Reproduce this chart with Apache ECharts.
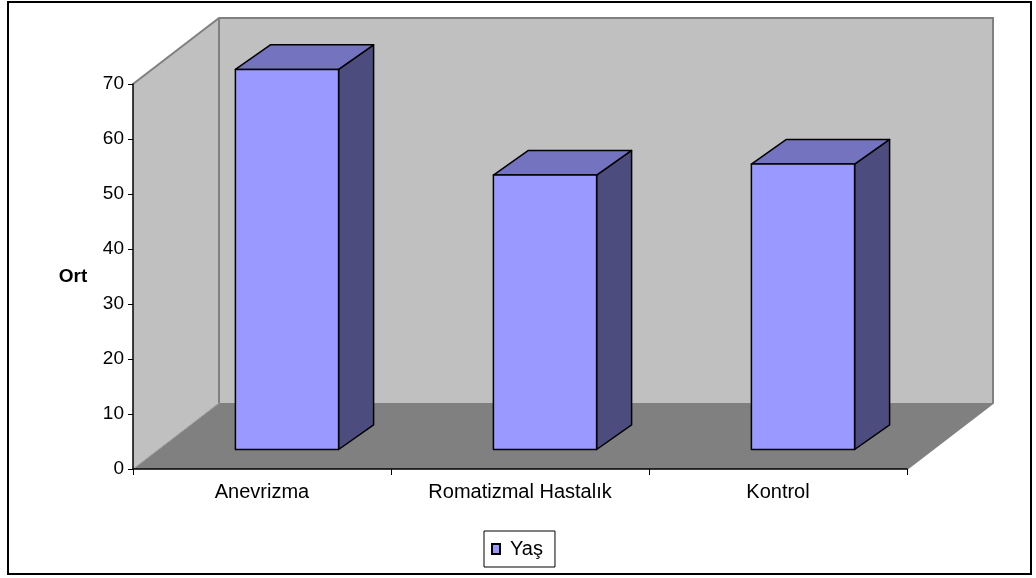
<!DOCTYPE html>
<html>
<head>
<meta charset="utf-8">
<script src="https://cdn.jsdelivr.net/npm/echarts@6/dist/echarts.min.js"></script>
<style>
  html, body { margin: 0; padding: 0; background: #ffffff; }
  #chart { width: 1036px; height: 578px; }
</style>
</head>
<body>
<div id="chart"></div>
<script>
// Mean age (Ort) per group
const categories = ['Anevrizma', 'Romatizmal Hastalık', 'Kontrol'];
const seriesName = 'Yaş';
const values = [69.1, 49.9, 51.9];
const yTicks = { min: 0, max: 70, interval: 10 };

// Oblique 3D look: wall depth, column position inside the depth, column depth
const WALL_DX = 86, WALL_DY = -66;
const COL_DX = 25, COL_DY = -19.5;
const DEPTH_DX = 35, DEPTH_DY = -24.6;
const GAP_RATIO = 2.5; // band width / column width

const FONT = '"Liberation Sans", Arial, sans-serif';

const chart = echarts.init(document.getElementById('chart'), null, { renderer: 'canvas' });

function renderWalls(params, api) {
  const r = params.coordSys;
  const x0 = r.x, x1 = r.x + r.width, yT = r.y, yB = r.y + r.height;
  const bx0 = x0 + WALL_DX, bx1 = x1 + WALL_DX, byT = yT + WALL_DY, byB = yB + WALL_DY;
  return {
    type: 'group',
    children: [
      { // floor
        type: 'polygon',
        shape: { points: [[x0, yB], [bx0, byB], [bx1, byB], [x1, yB]] },
        style: { fill: '#808080', stroke: null }
      },
      { // left side wall
        type: 'polygon',
        shape: { points: [[x0, yB], [x0, yT], [bx0, byT], [bx0, byB]] },
        style: { fill: '#C0C0C0', stroke: null }
      },
      { // back wall
        type: 'rect',
        shape: { x: bx0, y: byT, width: bx1 - bx0, height: byB - byT },
        style: { fill: '#C0C0C0', stroke: null }
      },
      { // wall edges
        type: 'polyline',
        shape: { points: [[x0, yT], [bx0, byT], [bx1, byT], [bx1, byB], [x1, yB]] },
        style: { fill: null, stroke: '#808080', lineWidth: 2 }
      },
      {
        type: 'line',
        shape: { x1: bx0, y1: byT, x2: bx0, y2: byB },
        style: { stroke: '#808080', lineWidth: 2 }
      },
      {
        type: 'line',
        shape: { x1: x0, y1: yB, x2: bx0, y2: byB },
        style: { stroke: '#A0A0A0', lineWidth: 1 }
      }
    ]
  };
}

function renderColumn(params, api) {
  const idx = api.value(0);
  const base = api.coord([idx, 0]);
  const top = api.coord([idx, api.value(1)]);
  const band = api.size([1, 0])[0];
  const w = band / GAP_RATIO;
  const lx = base[0] - w / 2 + COL_DX, rx = base[0] + w / 2 + COL_DX;
  const by = base[1] + COL_DY, ty = top[1] + COL_DY;
  const edge = { stroke: '#000000', lineWidth: 1.5, lineJoin: 'round' };
  return {
    type: 'group',
    children: [
      { // side face
        type: 'polygon',
        shape: { points: [[rx, by], [rx, ty], [rx + DEPTH_DX, ty + DEPTH_DY], [rx + DEPTH_DX, by + DEPTH_DY]] },
        style: Object.assign({ fill: '#4C4C7F' }, edge)
      },
      { // top face
        type: 'polygon',
        shape: { points: [[lx, ty], [lx + DEPTH_DX, ty + DEPTH_DY], [rx + DEPTH_DX, ty + DEPTH_DY], [rx, ty]] },
        style: Object.assign({ fill: '#7373BF' }, edge)
      },
      { // front face
        type: 'rect',
        shape: { x: lx, y: ty, width: rx - lx, height: by - ty },
        style: Object.assign({ fill: '#9999FF' }, edge)
      }
    ]
  };
}

const option = {
  backgroundColor: '#ffffff',
  animation: false,
  textStyle: { fontFamily: FONT },
  grid: { left: 133, top: 84, width: 774, height: 385, containLabel: false },
  legend: {
    data: [{ name: seriesName, icon: 'rect' }],
    left: 484, top: 531,
    orient: 'horizontal',
    backgroundColor: '#ffffff',
    borderColor: '#000000', borderWidth: 1, borderRadius: 0,
    padding: [8, 12, 8, 7],
    itemWidth: 8, itemHeight: 10, itemGap: 4,
    textStyle: { fontFamily: FONT, fontSize: 20, color: '#000000', padding: [0, 0, 0, 5] }
  },
  xAxis: {
    type: 'category',
    data: categories,
    boundaryGap: true,
    axisLine: { show: true, lineStyle: { color: '#000000', width: 1.5 } },
    axisTick: { show: true, length: 6, lineStyle: { color: '#000000' } },
    axisLabel: { margin: 13, fontSize: 20, fontFamily: FONT, color: '#000000' },
    splitLine: { show: false }
  },
  yAxis: {
    type: 'value',
    min: yTicks.min, max: yTicks.max, interval: yTicks.interval,
    name: 'Ort',
    nameLocation: 'middle',
    nameRotate: 0,
    nameGap: 60,
    nameTextStyle: { fontFamily: FONT, fontSize: 19, fontWeight: 'bold', color: '#000000', align: 'center', verticalAlign: 'middle' },
    axisLine: { show: true, lineStyle: { color: '#000000', width: 1.5 } },
    axisTick: { show: true, length: 5, lineStyle: { color: '#000000' } },
    axisLabel: { margin: 9, fontSize: 19, fontFamily: FONT, color: '#000000' },
    splitLine: { show: false }
  },
  graphic: [
    {
      type: 'rect',
      shape: { x: 8, y: 2, width: 1023, height: 572 },
      style: { fill: null, stroke: '#000000', lineWidth: 2 },
      silent: true, z: 100
    }
  ],
  series: [
    {
      type: 'custom',
      name: 'walls',
      renderItem: renderWalls,
      data: [[0, 0]],
      encode: { x: 0, y: 1 },
      silent: true,
      z: 0,
      legendHoverLink: false
    },
    {
      type: 'custom',
      name: seriesName,
      renderItem: renderColumn,
      data: values.map((v, i) => [i, v]),
      encode: { x: 0, y: 1 },
      itemStyle: { color: '#9999FF', borderColor: '#000000', borderWidth: 1 },
      z: 2
    }
  ]
};

chart.setOption(option);
</script>
</body>
</html>
